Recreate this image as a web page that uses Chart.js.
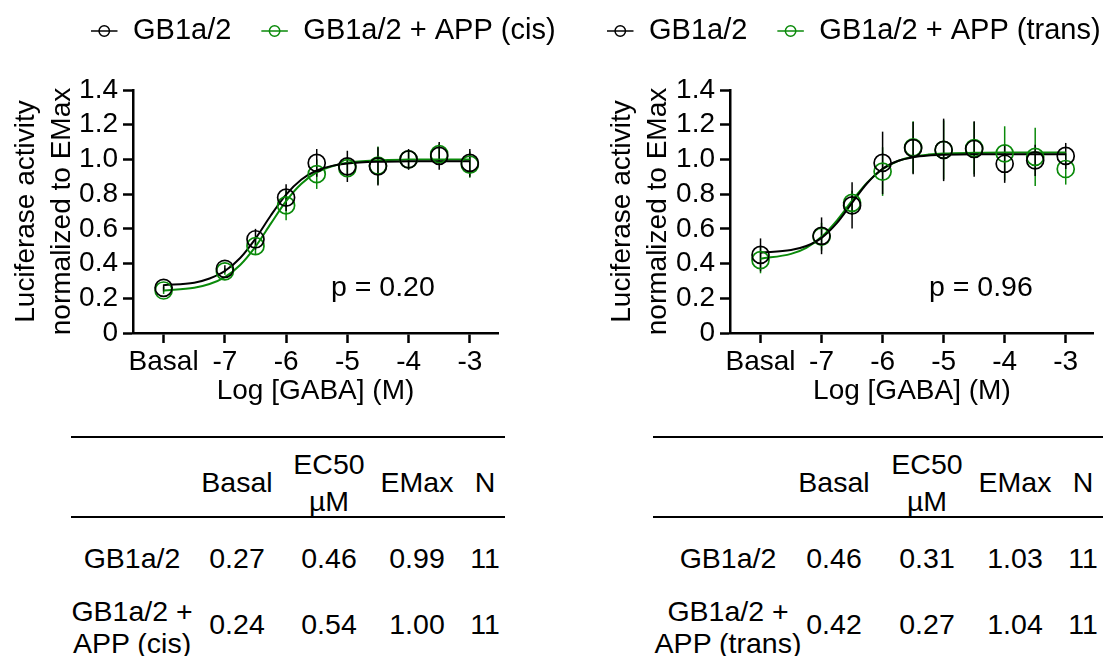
<!DOCTYPE html>
<html>
<head>
<meta charset="utf-8">
<script src="https://cdn.jsdelivr.net/npm/chart.js@4.4.1/dist/chart.umd.min.js"></script>
<style>
  body { margin: 0; background: #fff; }
  #lienzo { position: relative; width: 1104px; height: 656px; overflow: hidden; font-family: 'Liberation Sans', Arial, sans-serif; color: #000; }
  #lienzo canvas { position: absolute; top: 0; }
  .txt { position: absolute; font-size: 28.5px; line-height: 1; white-space: nowrap; transform: translate(-50%, -50%); }
  .pval { position: absolute; font-size: 28.5px; line-height: 1; white-space: nowrap; transform: translateY(-50%); }
  .linea { position: absolute; height: 2px; background: #000; }
</style>
</head>
<body>
<div id="lienzo">
  <canvas id="grafico-cis" width="560" height="420" style="left:0"></canvas>
  <canvas id="grafico-trans" width="544" height="420" style="left:560px"></canvas>
</div>
<script>
// Datos (Basal se dibuja en -8)
const logGaba = [-8, -7, -6.5, -6, -5.5, -5, -4.5, -4, -3.5, -3];
const xTicks = [-8, -7, -6, -5, -4, -3];
const xTickLabels = ['Basal', '-7', '-6', '-5', '-4', '-3'];
const yTicks = [0, 0.2, 0.4, 0.6, 0.8, 1.0, 1.2, 1.4];
const yTickLabels = ['0', '0.2', '0.4', '0.6', '0.8', '1.0', '1.2', '1.4'];

// cis
const cisCtrl = [0.26, 0.37, 0.54, 0.78, 0.98, 0.96, 0.96, 1.00, 1.02, 0.98];
const cisCtrlErr = [0.02, 0.02, 0.06, 0.077, 0.08, 0.09, 0.11, 0.06, 0.08, 0.08];
const cisApp = [0.245, 0.355, 0.50, 0.735, 0.915, 0.95, 0.965, 1.00, 1.03, 0.97];
const cisAppErr = [0.02, 0.02, 0.045, 0.086, 0.085, 0.05, 0.11, 0.05, 0.06, 0.075];

// trans
const transCtrl = [0.45, 0.56, 0.735, 0.98, 1.065, 1.055, 1.06, 0.975, 0.995, 1.02];
const transCtrlErr = [0.095, 0.106, 0.133, 0.18, 0.15, 0.18, 0.16, 0.11, 0.09, 0.075];
const transApp = [0.42, 0.555, 0.75, 0.93, 1.07, 1.055, 1.065, 1.035, 1.015, 0.945];
const transAppErr = [0.076, 0.08, 0.07, 0.14, 0.15, 0.17, 0.15, 0.156, 0.168, 0.09];

// curvas de ajuste
const ajusteX = [-8, -7.5, -7.25, -7, -6.75, -6.5, -6.25, -6, -5.75, -5.5, -5.25, -5, -4.5, -4, -3.5, -3];
const cisCtrlAjuste = [0.275, 0.29, 0.314, 0.357, 0.432, 0.544, 0.677, 0.797, 0.884, 0.936, 0.963, 0.977, 0.987, 0.989, 0.99, 0.99];
const cisAppAjuste = [0.245, 0.261, 0.282, 0.322, 0.392, 0.498, 0.63, 0.76, 0.86, 0.925, 0.961, 0.981, 0.995, 0.999, 1.0, 1.0];
const transCtrlAjuste = [0.463, 0.478, 0.501, 0.548, 0.633, 0.75, 0.864, 0.946, 0.991, 1.013, 1.023, 1.027, 1.03, 1.03, 1.03, 1.03];
const transAppAjuste = [0.428, 0.456, 0.491, 0.554, 0.648, 0.762, 0.868, 0.944, 0.991, 1.016, 1.028, 1.034, 1.038, 1.04, 1.04, 1.04];

const seriesCis = ['GB1a/2', 'GB1a/2 + APP (cis)'];
const seriesTrans = ['GB1a/2', 'GB1a/2 + APP (trans)'];
const tituloY = ['Luciferase activity', 'normalized to EMax'];
const tituloX = 'Log [GABA] (M)';
const pCis = 'p = 0.20';
const pTrans = 'p = 0.96';

// tablas
const encabezados = ['Basal', 'EC50\nµM', 'EMax', 'N'];
const filasCis = [
  ['GB1a/2', '0.27', '0.46', '0.99', '11'],
  ['GB1a/2 +\nAPP (cis)', '0.24', '0.54', '1.00', '11']
];
const filasTrans = [
  ['GB1a/2', '0.46', '0.31', '1.03', '11'],
  ['GB1a/2 +\nAPP (trans)', '0.42', '0.27', '1.04', '11']
];

const NEGRO = '#000000';
const VERDE = '#0a8a0a';
const FUENTE = "'Liberation Sans', Arial, sans-serif";
const TAM = 28;

// Leyenda dibujada a mano (símbolo línea + círculo)
const leyendaPlugin = {
  id: 'leyenda',
  afterDraw(chart, args, opts) {
    const ctx = chart.ctx;
    ctx.save();
    ctx.font = '29px ' + FUENTE;
    ctx.textBaseline = 'middle';
    let x = opts.x;
    chart.data.datasets.filter(d => d.enLeyenda).forEach(d => {
      ctx.strokeStyle = d.borderColor;
      ctx.lineWidth = 1.5;
      ctx.beginPath();
      ctx.moveTo(x, opts.y);
      ctx.lineTo(x + 26.5, opts.y);
      ctx.stroke();
      ctx.beginPath();
      ctx.arc(x + 13.25, opts.y, 5.2, 0, Math.PI * 2);
      ctx.stroke();
      ctx.fillStyle = '#000';
      ctx.fillText(d.label, x + 42, opts.y);
      x += 42 + ctx.measureText(d.label).width + 30;
    });
    ctx.restore();
  }
};

// Barras de error (SEM)
const barrasPlugin = {
  id: 'barras',
  beforeDatasetsDraw(chart) {
    const ctx = chart.ctx;
    const sx = chart.scales.x, sy = chart.scales.y;
    ctx.save();
    ctx.lineWidth = 1.5;
    chart.data.datasets.slice().reverse().forEach(d => {
      if (!d.errores) return;
      ctx.strokeStyle = d.borderColor;
      d.data.forEach((p, i) => {
        const px = sx.getPixelForValue(p.x);
        ctx.beginPath();
        ctx.moveTo(px, sy.getPixelForValue(p.y - d.errores[i]));
        ctx.lineTo(px, sy.getPixelForValue(p.y + d.errores[i]));
        ctx.stroke();
      });
    });
    ctx.restore();
  }
};

function puntos(medias) {
  return logGaba.map((x, i) => ({ x: x, y: medias[i] }));
}

function curva(valores) {
  return ajusteX.map((x, i) => ({ x: x, y: valores[i] }));
}

function crearGrafico(id, nombres, medias, errores, ajustes, cfg) {
  const colores = [NEGRO, VERDE];
  const datasets = [];
  // puntos primero: el índice 0 queda encima
  nombres.forEach((nombre, k) => {
    datasets.push({
      label: nombre,
      enLeyenda: true,
      data: puntos(medias[k]),
      errores: errores[k],
      showLine: false,
      borderColor: colores[k],
      backgroundColor: 'transparent',
      pointRadius: 8.5,
      pointBorderWidth: 1.7,
      pointBackgroundColor: 'transparent',
      pointBorderColor: colores[k]
    });
  });
  nombres.forEach((nombre, k) => {
    datasets.push({
      label: nombre + ' ajuste',
      data: curva(ajustes[k]),
      showLine: true,
      borderColor: colores[k],
      borderWidth: 2,
      pointRadius: 0,
      cubicInterpolationMode: 'monotone',
      fill: false
    });
  });

  const fuenteTicks = { family: FUENTE, size: TAM };
  const grid = {
    display: true,
    drawOnChartArea: false,
    drawTicks: true,
    tickLength: 10,
    tickColor: '#000',
    tickWidth: 2.5
  };

  new Chart(document.getElementById(id).getContext('2d'), {
    type: 'scatter',
    data: { datasets: datasets },
    plugins: [barrasPlugin, leyendaPlugin],
    options: {
      responsive: false,
      maintainAspectRatio: false,
      animation: false,
      events: [],
      layout: { padding: { left: cfg.padIzq, right: cfg.padDer, top: 90, bottom: 0 } },
      plugins: {
        legend: { display: false },
        tooltip: { enabled: false },
        leyenda: { x: cfg.leyendaX, y: 31 }
      },
      scales: {
        x: {
          type: 'linear',
          min: -8.5,
          max: -2.54,
          afterBuildTicks: s => { s.ticks = xTicks.map(v => ({ value: v })); },
          afterFit: s => { s.height = 87; },
          ticks: {
            callback: (v, i) => xTickLabels[i],
            font: fuenteTicks,
            color: '#000',
            padding: 2,
            maxRotation: 0,
            autoSkip: false
          },
          grid: grid,
          border: { display: true, color: '#000', width: 2.5 },
          title: {
            display: true,
            text: tituloX,
            color: '#000',
            font: { family: FUENTE, size: TAM },
            padding: { top: 0, bottom: 12 }
          }
        },
        y: {
          type: 'linear',
          min: 0,
          max: 1.4,
          afterBuildTicks: s => { s.ticks = yTicks.map(v => ({ value: v })); },
          afterFit: s => { s.width = cfg.anchoY; },
          ticks: {
            callback: (v, i) => yTickLabels[i],
            font: fuenteTicks,
            color: '#000',
            padding: 5,
            autoSkip: false
          },
          grid: grid,
          border: { display: true, color: '#000', width: 2.5 },
          title: {
            display: true,
            text: tituloY,
            color: '#000',
            font: { family: FUENTE, size: TAM, lineHeight: 36 / TAM },
            padding: { top: 8, bottom: 0 }
          }
        }
      }
    }
  });
}

crearGrafico('grafico-cis', seriesCis,
  [cisCtrl, cisApp], [cisCtrlErr, cisAppErr], [cisCtrlAjuste, cisAppAjuste],
  { padIzq: 0, padDer: 62, anchoY: 133, leyendaX: 91 });

crearGrafico('grafico-trans', seriesTrans,
  [transCtrl, transApp], [transCtrlErr, transAppErr], [transCtrlAjuste, transAppAjuste],
  { padIzq: 36, padDer: 6, anchoY: 134, leyendaX: 47 });

// Textos y tablas en HTML
const lienzo = document.getElementById('lienzo');

function texto(contenido, x, y, clase) {
  const el = document.createElement('div');
  el.className = clase || 'txt';
  el.textContent = contenido;
  el.style.left = x + 'px';
  el.style.top = y + 'px';
  lienzo.appendChild(el);
}

function linea(x1, x2, y) {
  const el = document.createElement('div');
  el.className = 'linea';
  el.style.left = x1 + 'px';
  el.style.width = (x2 - x1) + 'px';
  el.style.top = (y - 1) + 'px';
  lienzo.appendChild(el);
}

// texto de una o dos líneas centrado en (x, y)
function celda(contenido, x, y, sep) {
  const partes = contenido.split('\n');
  if (partes.length === 1) {
    texto(partes[0], x, y);
  } else {
    texto(partes[0], x, y - sep / 2);
    texto(partes[1], x, y + sep / 2);
  }
}

function tabla(filas, pos) {
  linea(pos.x1, pos.x2, 437);
  linea(pos.x1, pos.x2, 517);
  encabezados.forEach((h, j) => celda(h, pos.cols[j + 1], 482, 37));
  celda(filas[0][0], pos.cols[0], 558, 32);
  for (let j = 1; j < 5; j++) celda(filas[0][j], pos.cols[j], 558, 32);
  celda(filas[1][0], pos.cols[0], 627, 32);
  for (let j = 1; j < 5; j++) celda(filas[1][j], pos.cols[j], 624, 32);
}

tabla(filasCis, { x1: 71, x2: 505, cols: [132, 237, 329, 417, 485] });
tabla(filasTrans, { x1: 653, x2: 1103, cols: [728, 834, 927, 1015, 1083] });

texto(pCis, 331, 286, 'pval');
texto(pTrans, 929, 286, 'pval');
</script>
</body>
</html>
